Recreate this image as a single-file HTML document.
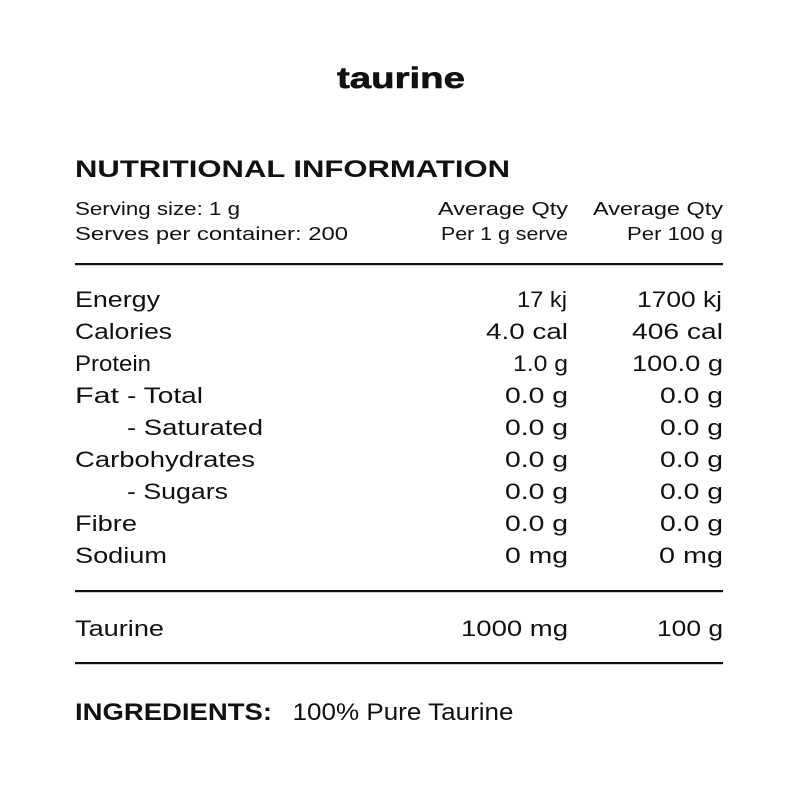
<!DOCTYPE html>
<html>
<head>
<meta charset="utf-8">
<style>
  html, body { margin: 0; padding: 0; background: #ffffff; }
  svg { display: block; }
  text { font-family: "Liberation Sans", "DejaVu Sans", sans-serif; fill: #111; }
  .b { font-weight: bold; }
  .r22 { font-size: 22.5px; }
  .r18 { font-size: 18.5px; }
</style>
</head>
<body>
<svg width="800" height="800" viewBox="0 0 800 800" xmlns="http://www.w3.org/2000/svg">
  <rect x="0" y="0" width="800" height="800" fill="#ffffff"/>

  <!-- Title -->
  <text class="b" x="337" y="88" font-size="30" textLength="128" lengthAdjust="spacingAndGlyphs" stroke="#111" stroke-width="0.6">taurine</text>

  <!-- Heading -->
  <text class="b" x="75" y="177" font-size="24.5" textLength="435" lengthAdjust="spacingAndGlyphs">NUTRITIONAL INFORMATION</text>

  <!-- Header rows -->
  <text class="r18" x="75" y="215" textLength="165" lengthAdjust="spacingAndGlyphs">Serving size: 1 g</text>
  <text class="r18" x="75" y="240" textLength="273" lengthAdjust="spacingAndGlyphs">Serves per container: 200</text>
  <text class="r18" x="568" y="215" text-anchor="end" textLength="130" lengthAdjust="spacingAndGlyphs">Average Qty</text>
  <text class="r18" x="568" y="240" text-anchor="end" textLength="127" lengthAdjust="spacingAndGlyphs">Per 1 g serve</text>
  <text class="r18" x="723" y="215" text-anchor="end" textLength="130" lengthAdjust="spacingAndGlyphs">Average Qty</text>
  <text class="r18" x="723" y="240" text-anchor="end" textLength="96" lengthAdjust="spacingAndGlyphs">Per 100 g</text>

  <!-- Line 1 -->
  <rect x="75" y="263" width="648" height="2.2" fill="#111"/>

  <!-- Nutrient labels -->
  <text class="r22" x="75" y="307" textLength="85" lengthAdjust="spacingAndGlyphs">Energy</text>
  <text class="r22" x="75" y="339" textLength="97" lengthAdjust="spacingAndGlyphs">Calories</text>
  <text class="r22" x="75" y="371" textLength="76" lengthAdjust="spacingAndGlyphs">Protein</text>
  <text class="r22" x="75" y="403" textLength="44" lengthAdjust="spacingAndGlyphs">Fat</text>
  <text class="r22" x="127" y="403" textLength="76" lengthAdjust="spacingAndGlyphs">- Total</text>
  <text class="r22" x="127" y="435" textLength="136" lengthAdjust="spacingAndGlyphs">- Saturated</text>
  <text class="r22" x="75" y="467" textLength="180" lengthAdjust="spacingAndGlyphs">Carbohydrates</text>
  <text class="r22" x="127" y="499" textLength="101" lengthAdjust="spacingAndGlyphs">- Sugars</text>
  <text class="r22" x="75" y="531" textLength="62" lengthAdjust="spacingAndGlyphs">Fibre</text>
  <text class="r22" x="75" y="563" textLength="92" lengthAdjust="spacingAndGlyphs">Sodium</text>

  <!-- Column 2 values -->
  <text class="r22" x="567" y="307" text-anchor="end" textLength="50" lengthAdjust="spacingAndGlyphs">17 kj</text>
  <text class="r22" x="568" y="339" text-anchor="end" textLength="82" lengthAdjust="spacingAndGlyphs">4.0 cal</text>
  <text class="r22" x="568" y="371" text-anchor="end" textLength="55" lengthAdjust="spacingAndGlyphs">1.0 g</text>
  <text class="r22" x="568" y="403" text-anchor="end" textLength="63" lengthAdjust="spacingAndGlyphs">0.0 g</text>
  <text class="r22" x="568" y="435" text-anchor="end" textLength="63" lengthAdjust="spacingAndGlyphs">0.0 g</text>
  <text class="r22" x="568" y="467" text-anchor="end" textLength="63" lengthAdjust="spacingAndGlyphs">0.0 g</text>
  <text class="r22" x="568" y="499" text-anchor="end" textLength="63" lengthAdjust="spacingAndGlyphs">0.0 g</text>
  <text class="r22" x="568" y="531" text-anchor="end" textLength="63" lengthAdjust="spacingAndGlyphs">0.0 g</text>
  <text class="r22" x="568" y="563" text-anchor="end" textLength="63" lengthAdjust="spacingAndGlyphs">0 mg</text>

  <!-- Column 3 values -->
  <text class="r22" x="722" y="307" text-anchor="end" textLength="85" lengthAdjust="spacingAndGlyphs">1700 kj</text>
  <text class="r22" x="723" y="339" text-anchor="end" textLength="91" lengthAdjust="spacingAndGlyphs">406 cal</text>
  <text class="r22" x="723" y="371" text-anchor="end" textLength="91" lengthAdjust="spacingAndGlyphs">100.0 g</text>
  <text class="r22" x="723" y="403" text-anchor="end" textLength="63" lengthAdjust="spacingAndGlyphs">0.0 g</text>
  <text class="r22" x="723" y="435" text-anchor="end" textLength="63" lengthAdjust="spacingAndGlyphs">0.0 g</text>
  <text class="r22" x="723" y="467" text-anchor="end" textLength="63" lengthAdjust="spacingAndGlyphs">0.0 g</text>
  <text class="r22" x="723" y="499" text-anchor="end" textLength="63" lengthAdjust="spacingAndGlyphs">0.0 g</text>
  <text class="r22" x="723" y="531" text-anchor="end" textLength="63" lengthAdjust="spacingAndGlyphs">0.0 g</text>
  <text class="r22" x="723" y="563" text-anchor="end" textLength="64" lengthAdjust="spacingAndGlyphs">0 mg</text>

  <!-- Line 2 -->
  <rect x="75" y="590" width="648" height="2.2" fill="#111"/>

  <!-- Taurine row -->
  <text class="r22" x="75" y="636" textLength="89" lengthAdjust="spacingAndGlyphs">Taurine</text>
  <text class="r22" x="568" y="636" text-anchor="end" textLength="107" lengthAdjust="spacingAndGlyphs">1000 mg</text>
  <text class="r22" x="723" y="636" text-anchor="end" textLength="66" lengthAdjust="spacingAndGlyphs">100 g</text>

  <!-- Line 3 -->
  <rect x="75" y="662" width="648" height="2.2" fill="#111"/>

  <!-- Ingredients -->
  <text class="b" x="75" y="720" font-size="24.5" textLength="197" lengthAdjust="spacingAndGlyphs">INGREDIENTS:</text>
  <text x="292.5" y="720" font-size="24" textLength="221" lengthAdjust="spacingAndGlyphs">100% Pure Taurine</text>
</svg>
</body>
</html>
